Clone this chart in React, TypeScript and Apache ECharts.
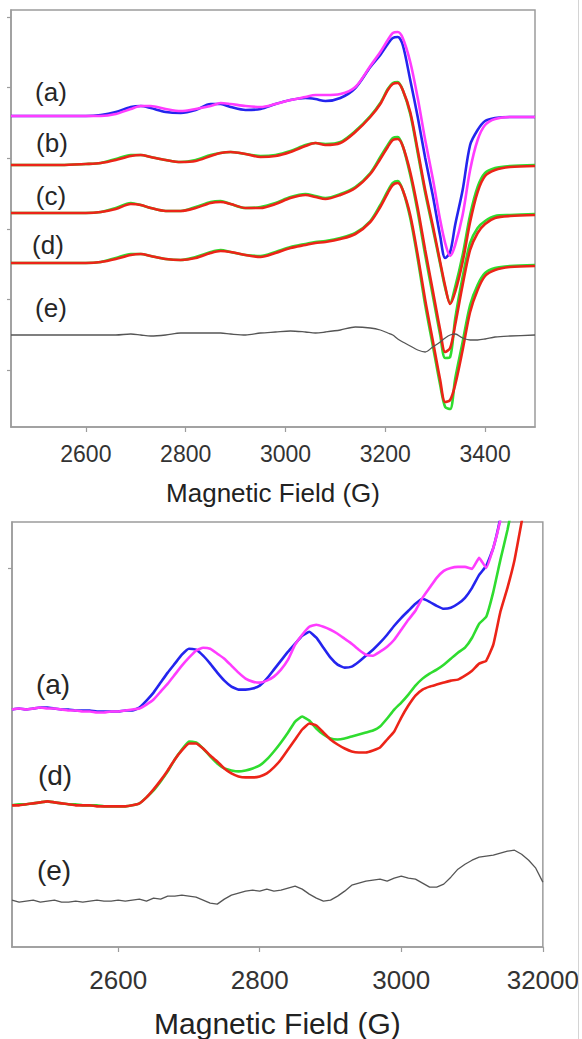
import React, { useEffect, useRef } from "react";
import * as echarts from "echarts";

// ---------- Top panel (2450–3500 G) ----------
const topField = [2450, 2500, 2550, 2600, 2630, 2660, 2690, 2710, 2730, 2760, 2790, 2820, 2850, 2870, 2890, 2920, 2950, 2980, 3010, 3040, 3060, 3080, 3110, 3140, 3170, 3190, 3205, 3215, 3225, 3235, 3250, 3265, 3280, 3295, 3310, 3320, 3330, 3340, 3355, 3370, 3385, 3400, 3420, 3450, 3500];
const topBlueA = [311, 311, 311, 311, 312, 315, 320, 321, 319, 315, 314, 317, 323, 323, 320, 317, 318, 323, 327, 329, 328, 326, 329, 339, 360, 372, 383, 389, 390, 382, 347, 310, 269, 232, 191, 169, 175, 202, 237, 282, 297, 306, 309, 310, 310];
const topMagentaA = [311, 311, 311, 311, 311, 313, 318, 321, 321, 318, 316, 318, 321, 324, 323, 321, 320, 323, 327, 330, 332, 332, 333, 340, 361, 375, 387, 394, 395, 389, 365, 329, 287, 249, 207, 184, 171, 182, 212, 257, 287, 302, 308, 310, 310];
const topGreenB = [262, 262, 262, 263, 264, 268, 272, 272, 270, 267, 265, 267, 272, 274, 275, 273, 271, 272, 276, 282, 284, 283, 285, 296, 311, 324, 338, 344, 345, 337, 313, 274, 234, 199, 163, 139, 124, 140, 172, 212, 240, 254, 259, 261, 262];
const topRedB = [262, 262, 262, 263, 264, 267, 271, 272, 270, 267, 265, 266, 271, 274, 275, 273, 270, 271, 275, 281, 284, 282, 284, 295, 310, 323, 337, 343, 344, 337, 315, 277, 237, 202, 165, 141, 123, 135, 165, 205, 235, 251, 257, 260, 261];
const topGreenC = [214, 214, 214, 214, 215, 219, 224, 222, 219, 216, 216, 220, 225, 226, 223, 219, 220, 224, 230, 233, 231, 229, 233, 240, 254, 270, 282, 289, 290, 281, 252, 215, 172, 132, 92, 69, 70, 108, 150, 184, 199, 206, 211, 212, 213];
const topRedC = [214, 214, 214, 214, 215, 218, 223, 222, 219, 216, 216, 219, 224, 225, 223, 219, 219, 223, 229, 232, 230, 228, 232, 239, 253, 268, 280, 287, 288, 281, 255, 219, 177, 137, 97, 75, 79, 102, 142, 177, 194, 203, 209, 211, 212];
const topGreenD = [164, 164, 164, 164, 165, 169, 173, 173, 171, 168, 167, 170, 175, 177, 175, 172, 171, 175, 180, 183, 185, 186, 189, 194, 206, 222, 236, 244, 246, 237, 209, 168, 122, 82, 42, 20, 18, 48, 85, 122, 142, 154, 159, 161, 162];
const topRedD = [164, 164, 164, 164, 165, 168, 172, 173, 171, 168, 167, 169, 174, 176, 175, 172, 170, 174, 179, 182, 184, 185, 188, 193, 205, 220, 234, 242, 244, 237, 212, 172, 127, 87, 47, 25, 27, 42, 77, 115, 137, 151, 157, 160, 161];
const topGrayE = [92, 92, 92, 92, 92, 92, 93, 92, 91, 92, 94, 94, 94, 94, 93, 92, 94, 95, 96, 95, 94, 95, 97, 100, 99, 97, 94, 92, 88, 85, 81, 77, 75, 80, 85, 89, 92, 93, 89, 87, 87, 88, 90, 91, 92];
const topTicksX = [2600, 2800, 3000, 3200, 3400];
const topTicksY = [57, 127.6, 198.2, 268.8, 339.4, 410];
const topLabels = ["(a)", "(b)", "(c)", "(d)", "(e)"];

// ---------- Bottom panel (2450–3200 G) ----------
const botField = [2450, 2460, 2470, 2480, 2490, 2500, 2510, 2520, 2530, 2540, 2550, 2560, 2570, 2580, 2590, 2600, 2610, 2620, 2630, 2640, 2650, 2660, 2670, 2680, 2690, 2700, 2710, 2720, 2730, 2740, 2750, 2760, 2770, 2780, 2790, 2800, 2810, 2820, 2830, 2840, 2850, 2860, 2870, 2880, 2890, 2900, 2910, 2920, 2930, 2940, 2950, 2960, 2970, 2980, 2990, 3000, 3010, 3020, 3030, 3040, 3050, 3060, 3070, 3080, 3090, 3100, 3110, 3120, 3130, 3140, 3150, 3160, 3170, 3180, 3190, 3200];
const botBlueA = [238, 239, 238, 239, 240, 240, 239, 238, 238, 237, 237, 237, 236, 236, 236, 236, 237, 237, 240, 247, 255, 265, 275, 284, 293, 299, 298, 292, 284, 275, 267, 261, 258, 258, 259, 262, 269, 278, 287, 296, 304, 312, 316, 310, 300, 290, 283, 280, 281, 286, 292, 298, 305, 313, 322, 330, 337, 344, 349, 346, 342, 339, 340, 344, 350, 360, 373, 382, 400, 430, 468, 508, 548, 588, 628, 668];
const botMagentaA = [238, 239, 238, 239, 240, 239, 239, 238, 237, 237, 236, 236, 235, 235, 236, 236, 237, 238, 239, 243, 248, 256, 264, 273, 282, 290, 297, 300, 299, 294, 289, 282, 275, 269, 266, 265, 267, 271, 278, 288, 303, 313, 321, 323, 321, 318, 314, 309, 304, 298, 293, 292, 296, 301, 308, 318, 328, 337, 350, 360, 370, 377, 380, 381, 381, 379, 390, 380, 400, 428, 466, 506, 546, 586, 626, 666];
const botGreenD = [142, 143, 143, 144, 145, 146, 145, 144, 143, 143, 142, 142, 142, 141, 141, 141, 141, 142, 144, 150, 157, 166, 176, 188, 198, 206, 205, 199, 191, 184, 179, 177, 176, 177, 179, 182, 188, 196, 205, 215, 226, 231, 227, 219, 213, 209, 208, 209, 211, 213, 215, 217, 221, 229, 238, 245, 253, 262, 269, 274, 278, 283, 289, 295, 300, 310, 324, 331, 356, 388, 418, 453, 493, 533, 573, 613];
const botRedD = [142, 142, 143, 144, 145, 146, 145, 144, 143, 142, 142, 142, 141, 141, 141, 141, 141, 142, 144, 150, 158, 167, 177, 188, 197, 204, 204, 199, 192, 186, 179, 174, 171, 170, 170, 171, 174, 180, 188, 198, 208, 218, 224, 222, 215, 208, 203, 199, 196, 195, 195, 197, 200, 208, 216, 230, 242, 252, 258, 261, 263, 265, 267, 268, 272, 277, 284, 287, 303, 336, 360, 388, 426, 463, 503, 543];
const botGrayE = [47, 45, 46, 47, 45, 46, 47, 45, 45, 46, 45, 46, 47, 46, 46, 47, 46, 47, 48, 46, 49, 48, 51, 51, 52, 51, 50, 47, 44, 43, 48, 52, 54, 56, 57, 56, 58, 56, 57, 59, 61, 58, 53, 49, 46, 47, 51, 56, 62, 64, 66, 67, 68, 66, 69, 71, 69, 68, 64, 60, 60, 63, 70, 78, 83, 87, 90, 91, 92, 94, 96, 97, 93, 87, 79, 65];
const botTicksX = [2600, 2800, 3000, 3200];
const botTickLabels = ["2600", "2800", "3000", "32000"];
const botTicksY = [380];
const botLabels = ["(a)", "(d)", "(e)"];

const axisTitle = "Magnetic Field (G)";

const BLUE = "#2424ee";
const MAGENTA = "#ff3cff";
const GREEN = "#2fdc2f";
const RED = "#ec2418";
const GRAY = "#555555";
const FRAME = "#9c9c9c";
const FONT = "'Liberation Sans', Arial, Helvetica, sans-serif";

function pairs(xs: number[], ys: number[]) {
  return xs.map((x, i) => [x, ys[i]]);
}

function line(name: string, idx: number, xs: number[], ys: number[], color: string, width: number, smooth: number) {
  return {
    name,
    type: "line",
    xAxisIndex: idx,
    yAxisIndex: idx,
    data: pairs(xs, ys),
    showSymbol: false,
    symbol: "none",
    smooth,
    clip: true,
    lineStyle: { color, width },
    itemStyle: { color },
    emphasis: { disabled: true },
  };
}

export default function App() {
  const ref = useRef<HTMLDivElement>(null);

  useEffect(() => {
    if (!ref.current) return;
    const chart = echarts.init(ref.current, undefined, { renderer: "svg" });

    const topLabelPos = [
      [51, 92],
      [52, 143],
      [51, 196],
      [48, 245],
      [51, 308],
    ];
    const botLabelPos = [
      [53, 684],
      [55, 775],
      [54, 870],
    ];

    const graphics: any[] = [];
    topLabels.forEach((t, i) => {
      graphics.push({
        type: "text",
        x: topLabelPos[i][0],
        y: topLabelPos[i][1],
        style: { text: t, font: `26px ${FONT}`, fill: "#262626", align: "center", verticalAlign: "middle" },
      });
    });
    botLabels.forEach((t, i) => {
      graphics.push({
        type: "text",
        x: botLabelPos[i][0],
        y: botLabelPos[i][1],
        style: { text: t, font: `28px ${FONT}`, fill: "#262626", align: "center", verticalAlign: "middle" },
      });
    });
    graphics.push({ type: "rect", shape: { x: 579, y: 0, width: 3, height: 1039 }, style: { fill: "#ffffff" }, z: 100 });
    graphics.push({ type: "line", shape: { x1: 578.5, y1: 0, x2: 578.5, y2: 1039 }, style: { stroke: "#d4d4d4", lineWidth: 1 }, z: 101 });

    const xAxisBase = (grid: number, min: number, max: number, ticks: number[], fontSize: number, margin: number, nameSize: number, nameGap: number, fmt?: (v: number) => string) => ({
      gridIndex: grid,
      type: "value",
      min,
      max,
      axisLine: { show: true, onZero: false, lineStyle: { color: FRAME, width: 1.5 } },
      axisTick: { show: true, customValues: ticks, length: 5, inside: false, lineStyle: { color: FRAME, width: 1.2 } },
      axisLabel: {
        show: true,
        customValues: ticks,
        fontSize,
        color: "#333",
        fontFamily: FONT,
        margin,
        formatter: fmt ? fmt : (v: number) => String(v),
      },
      splitLine: { show: false },
      name: axisTitle,
      nameLocation: "middle",
      nameGap,
      nameTextStyle: { fontSize: nameSize, color: "#222", fontFamily: FONT },
    });

    const yAxisBase = (grid: number, max: number, ticks: number[]) => ({
      gridIndex: grid,
      type: "value",
      min: 0,
      max,
      axisLine: { show: true, onZero: false, lineStyle: { color: FRAME, width: 1.5 } },
      axisTick: { show: true, customValues: ticks, length: 4, inside: false, lineStyle: { color: FRAME, width: 1.2 } },
      axisLabel: { show: false },
      splitLine: { show: false },
    });

    chart.setOption({
      animation: false,
      backgroundColor: "#ffffff",
      textStyle: { fontFamily: FONT },
      grid: [
        { left: 11, top: 10, width: 524, height: 417, show: true, borderColor: FRAME, borderWidth: 1.5, backgroundColor: "transparent" },
        { left: 12, top: 522, width: 534, height: 426, show: true, borderColor: FRAME, borderWidth: 1.5, backgroundColor: "transparent" },
      ],
      xAxis: [
        xAxisBase(0, 2450, 3500, topTicksX, 23, 15, 26, 53),
        xAxisBase(1, 2450, 3200, botTicksX, 26, 20, 30, 61, (v: number) => botTickLabels[botTicksX.indexOf(v)] ?? String(v)),
      ],
      yAxis: [yAxisBase(0, 417, topTicksY), yAxisBase(1, 426, botTicksY)],
      series: [
        line("(a) blue", 0, topField, topBlueA, BLUE, 2.6, 0.3),
        line("(a) magenta", 0, topField, topMagentaA, MAGENTA, 2.6, 0.3),
        line("(b) green", 0, topField, topGreenB, GREEN, 2.6, 0.3),
        line("(b) red", 0, topField, topRedB, RED, 2.6, 0.3),
        line("(c) green", 0, topField, topGreenC, GREEN, 2.6, 0.3),
        line("(c) red", 0, topField, topRedC, RED, 2.6, 0.3),
        line("(d) green", 0, topField, topGreenD, GREEN, 2.6, 0.3),
        line("(d) red", 0, topField, topRedD, RED, 2.6, 0.3),
        line("(e) difference", 0, topField, topGrayE, GRAY, 1.3, 0.3),
        line("(a) blue zoom", 1, botField, botBlueA, BLUE, 2.6, 0.12),
        line("(a) magenta zoom", 1, botField, botMagentaA, MAGENTA, 2.6, 0.12),
        line("(d) green zoom", 1, botField, botGreenD, GREEN, 2.6, 0.12),
        line("(d) red zoom", 1, botField, botRedD, RED, 2.6, 0.12),
        line("(e) difference zoom", 1, botField, botGrayE, GRAY, 1.3, 0),
      ],
      graphic: graphics,
    });

    return () => {
      chart.dispose();
    };
  }, []);

  return (
    <div
      ref={ref}
      style={{ position: "absolute", left: 0, top: 0, width: 582, height: 1039, background: "#fff" }}
    />
  );
}
